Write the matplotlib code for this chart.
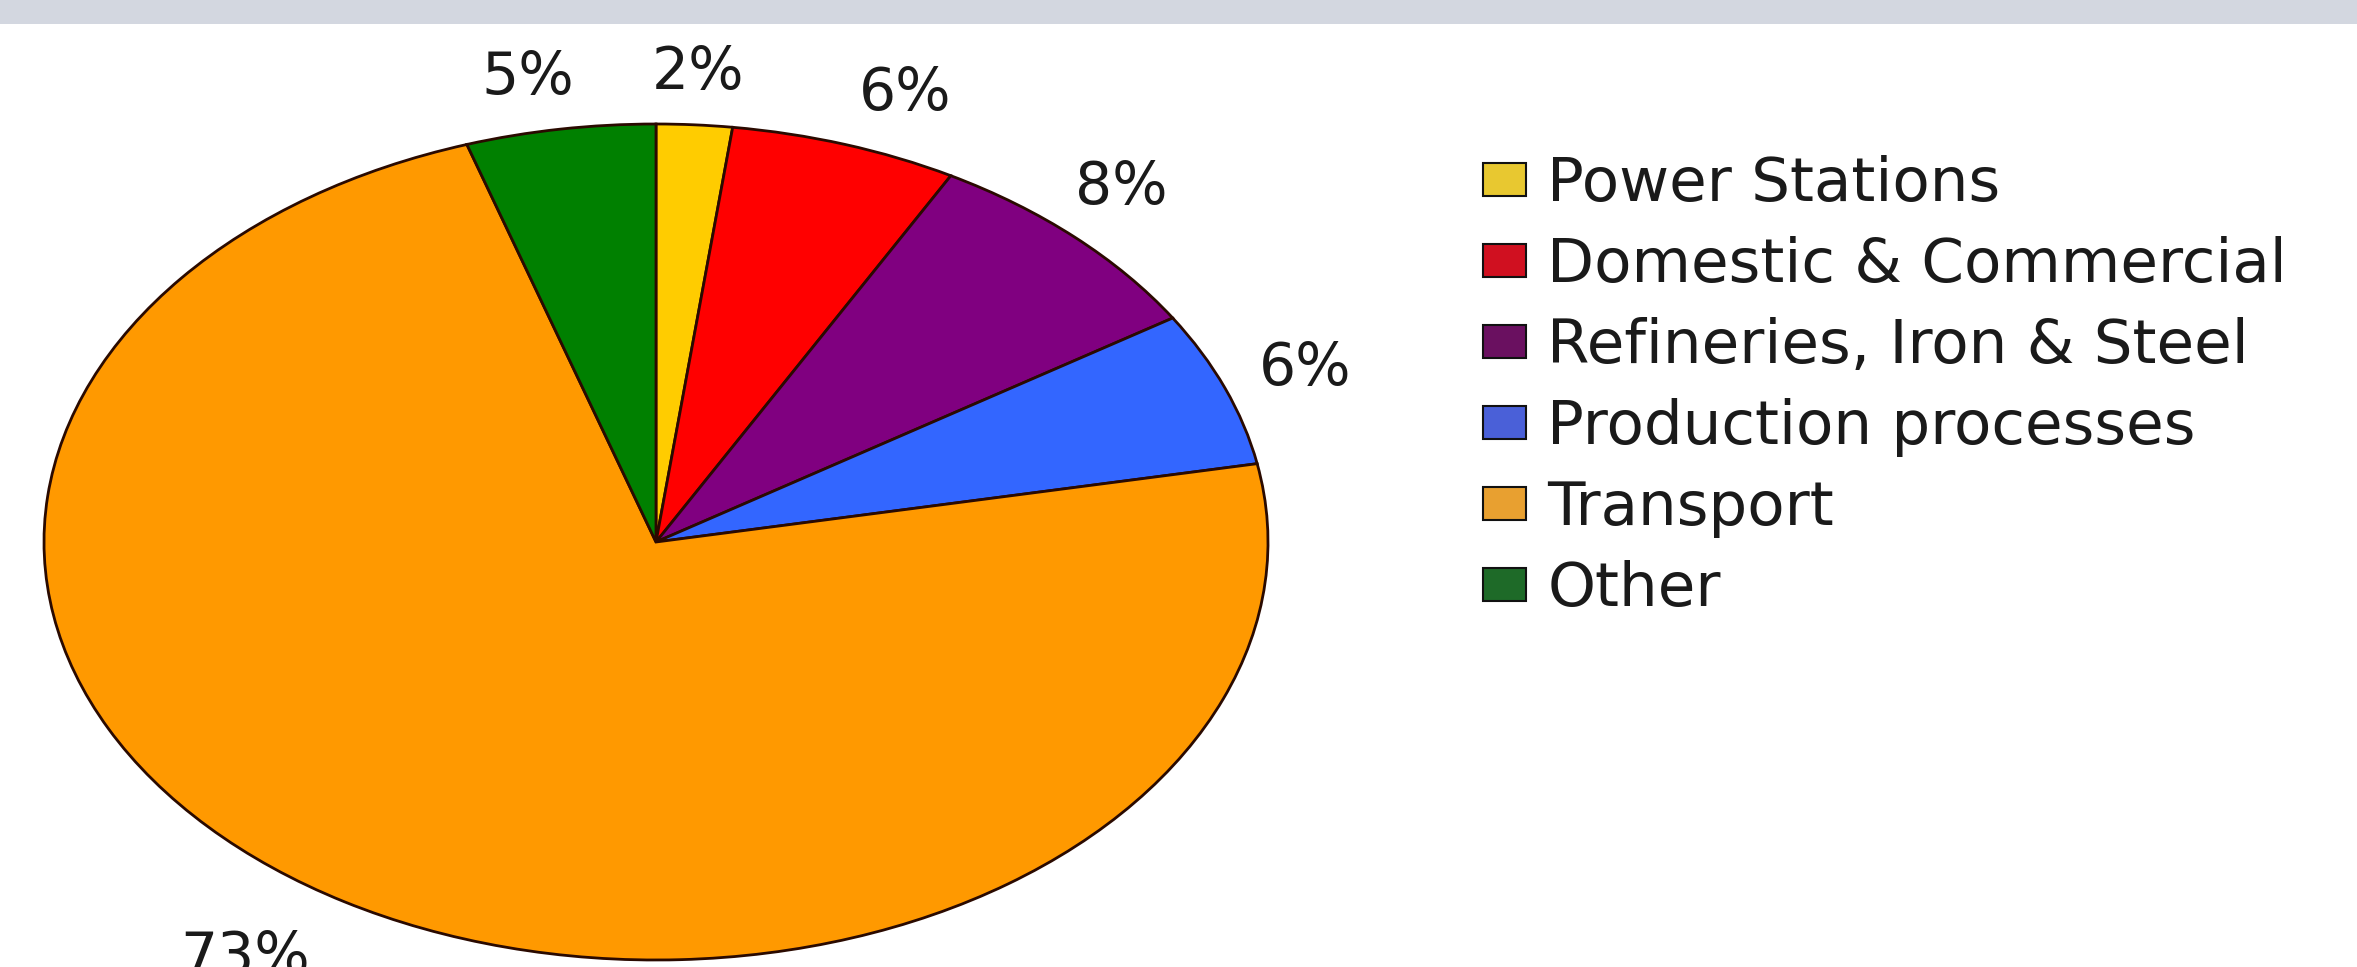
import matplotlib
matplotlib.use("Agg")
import matplotlib.pyplot as plt
from matplotlib.patches import Rectangle, Patch

# ---- data ----
categories = ["Power Stations", "Domestic & Commercial", "Refineries, Iron & Steel",
              "Production processes", "Transport", "Other"]
values = [2, 6, 8, 6, 73, 5]
colors = ["#FFCC00", "#FF0000", "#800080", "#3366FF", "#FF9900", "#008000"]
legend_colors = ["#E8C830", "#D01020", "#6A1060", "#4A60D8", "#E8A030", "#1E6A28"]

# ---- layout (label positions in axes data units, radius = 1) ----
label_pos = [(0.069, 1.124), (0.407, 1.072), (0.76, 0.847),
             (1.06, 0.416), (-0.672, -0.993), (-0.209, 1.112)]

W, H, DPI = 2357, 967, 100
fig = plt.figure(figsize=(W / DPI, H / DPI), dpi=DPI)
fig.patch.set_facecolor("white")

# grey band at top
fig.patches.append(Rectangle((0, 1 - 24 / H), 1, 24 / H, transform=fig.transFigure,
                             facecolor="#D3D7E0", edgecolor="none", zorder=0))

cx, cy, rx, ry = 656, 542, 612, 418
ax = fig.add_axes([(cx - rx) / W, (H - cy - ry) / H, 2 * rx / W, 2 * ry / H])

wedges, texts, autotexts = ax.pie(
    values, colors=colors, startangle=90, counterclock=False, radius=1,
    autopct="%1.0f%%", pctdistance=1.13,
    wedgeprops=dict(edgecolor="#2A0A00", linewidth=2.0),
    textprops=dict(fontsize=42, color="#1A1A1A", family="DejaVu Sans"),
    frame=False)
ax.set_aspect("auto")
ax.set_xlim(-1, 1)
ax.set_ylim(-1, 1)
ax.axis("off")

for t, (x, y) in zip(autotexts, label_pos):
    t.set_position((x, y))
    t.set_clip_on(False)

# legend
handles = [Patch(facecolor=c, edgecolor="#111111", linewidth=1.5) for c in legend_colors]
leg = fig.legend(handles, categories, loc="upper left",
                 bbox_to_anchor=(1483 / W, 1 - 155 / H),
                 frameon=False, prop=dict(family="DejaVu Sans", size=44),
                 handlelength=0.71, handleheight=0.46, handletextpad=0.34,
                 labelspacing=0.36, borderpad=0, borderaxespad=0)
for txt in leg.get_texts():
    txt.set_color("#1A1A1A")

fig.savefig("out.png", dpi=DPI)
